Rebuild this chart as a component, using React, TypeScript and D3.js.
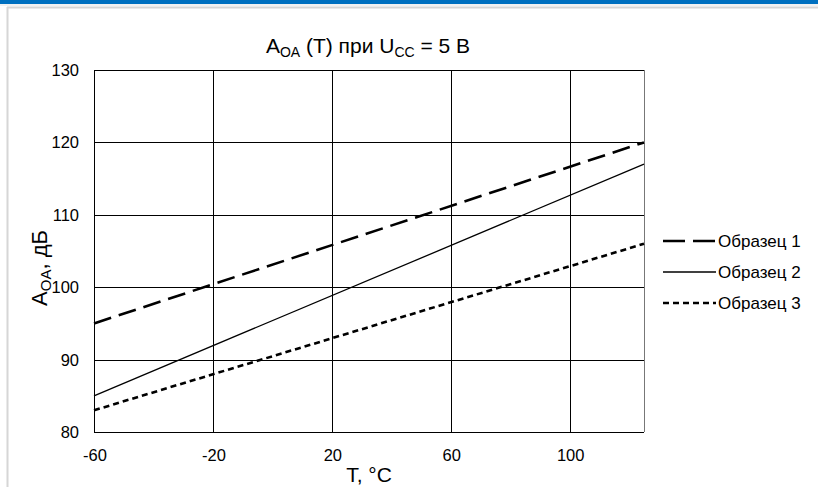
import React from "react";
import * as d3 from "d3";

const xTicks = [-60, -20, 20, 60, 100];
const yTicks = [80, 90, 100, 110, 120, 130];
const temps = [-60, 125];
const series1 = [95, 120];
const series2 = [85, 117];
const series3 = [83, 106];
const seriesNames = ["Образец 1", "Образец 2", "Образец 3"];

const W = 818;
const H = 487;
const FONT = "'Liberation Sans', Arial, sans-serif";

export default function App() {
  const x = d3.scaleLinear().domain([-60, 125]).range([94, 644]);
  const y = d3.scaleLinear().domain([80, 130]).range([432, 70]);
  const line = d3
    .line<[number, number]>()
    .x((d) => x(d[0]))
    .y((d) => y(d[1]));
  const all = [series1, series2, series3];
  const styles = [
    { w: 2.6, dash: "18,8" },
    { w: 1.3, dash: "" },
    { w: 2.6, dash: "6,4" },
  ];
  return (
    <svg
      width={W}
      height={H}
      style={{ position: "absolute", left: 0, top: 0, background: "#fff" }}
      fontFamily={FONT}
    >
      <rect x={0} y={0} width={W} height={4} fill="#0070c0" />
      <rect x={0} y={4} width={W} height={2} fill="#f2f2f2" />
      <line x1={7} x2={W} y1={7.5} y2={7.5} stroke="#d6d6d6" strokeWidth={2} />
      <line x1={7.5} x2={7.5} y1={7} y2={H} stroke="#d6d6d6" strokeWidth={2} />

      {/* grid */}
      {yTicks.map((t) => (
        <line key={"gy" + t} x1={x(-60)} x2={x(125)} y1={Math.round(y(t)) + 0.5} y2={Math.round(y(t)) + 0.5} stroke="#000" strokeWidth={1} />
      ))}
      {xTicks.map((t) => (
        <line key={"gx" + t} x1={Math.round(x(t)) + 0.5} x2={Math.round(x(t)) + 0.5} y1={y(130)} y2={y(80)} stroke="#000" strokeWidth={1} />
      ))}
      <line x1={Math.round(x(125)) + 0.5} x2={Math.round(x(125)) + 0.5} y1={y(130)} y2={y(80)} stroke="#777" strokeWidth={1} />

      {/* series */}
      {all.map((s, i) => (
        <path
          key={"s" + i}
          d={line(temps.map((t, j) => [t, s[j]] as [number, number])) || ""}
          fill="none"
          stroke="#000"
          strokeWidth={styles[i].w}
          strokeDasharray={styles[i].dash}
        />
      ))}

      {/* y tick labels */}
      {yTicks.map((t) => (
        <text key={"ty" + t} x={79} y={y(t) + 6} textAnchor="end" fontSize={16.5} fill="#000">
          {t}
        </text>
      ))}
      {/* x tick labels */}
      {xTicks.map((t) => (
        <text key={"tx" + t} x={x(t) + 1} y={461} textAnchor="middle" fontSize={16.5} fill="#000">
          {t}
        </text>
      ))}

      {/* title */}
      <text x={368} y={53} textAnchor="middle" fontSize={21} fill="#000">
        <tspan>A</tspan>
        <tspan fontSize={14} dy={4}>OA</tspan>
        <tspan dy={-4}> (T) при U</tspan>
        <tspan fontSize={14} dy={4}>CC</tspan>
        <tspan dy={-4}> = 5 В</tspan>
      </text>

      {/* y axis title */}
      <text transform="translate(47,268) rotate(-90)" textAnchor="middle" fontSize={22} fill="#000">
        <tspan>A</tspan>
        <tspan fontSize={15} dy={4}>OA</tspan>
        <tspan dy={-4}>,  дБ</tspan>
      </text>

      {/* x axis title */}
      <text x={369} y={482} textAnchor="middle" fontSize={21} fill="#000">
        T, °C
      </text>

      {/* legend */}
      {seriesNames.map((n, i) => {
        const ly = 241 + i * 31;
        return (
          <g key={"lg" + i}>
            <line x1={663} x2={716} y1={ly} y2={ly} stroke="#000" strokeWidth={styles[i].w} strokeDasharray={i === 0 ? "22,8" : styles[i].dash} />
            <text x={718} y={ly + 6} fontSize={17} fill="#000">
              {n}
            </text>
          </g>
        );
      })}
    </svg>
  );
}
